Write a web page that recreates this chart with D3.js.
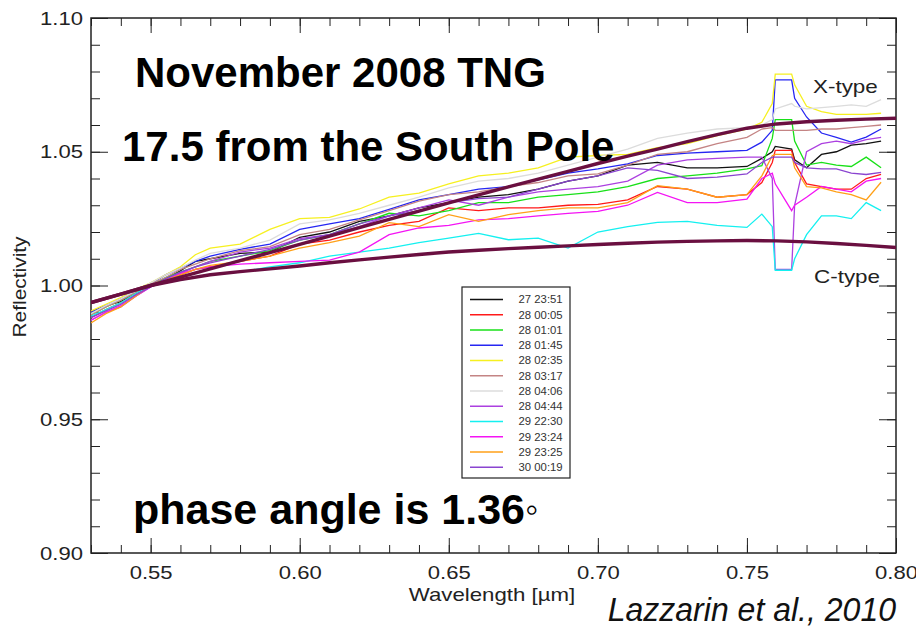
<!DOCTYPE html>
<html>
<head>
<meta charset="utf-8">
<script src="https://cdn.jsdelivr.net/npm/d3@7"></script>
<style>
  body { margin: 0; background: #fff; }
  svg { font-family: "Liberation Sans", Arial, sans-serif; }
  .axis text { font-size: 19px; fill: #222; }
  .axis line { stroke: #222; }
</style>
</head>
<body>
<div id="chart"></div>
<script>
// wavelength grid of the measured spectra (um)
var wave = [0.530, 0.535, 0.540, 0.545, 0.550, 0.555, 0.560, 0.565, 0.570, 0.580,
            0.590, 0.600, 0.610, 0.620, 0.630, 0.640, 0.650, 0.660, 0.670, 0.680,
            0.690, 0.700, 0.710, 0.720, 0.730, 0.740, 0.750, 0.755, 0.7585, 0.7595,
            0.765, 0.766, 0.770, 0.775, 0.780, 0.785, 0.790, 0.795];

var r2751 = [0.990, 0.9925, 0.994, 0.997, 1.000, 1.0025, 1.0055, 1.009, 1.010, 1.012,
             1.0125, 1.018, 1.020, 1.024, 1.026, 1.029, 1.031, 1.033, 1.034, 1.036,
             1.039, 1.041, 1.045, 1.046, 1.044, 1.044, 1.0445, 1.0475, 1.050, 1.052,
             1.051, 1.047, 1.044, 1.049, 1.050, 1.0525, 1.053, 1.054];
var r0005 = [0.988, 0.991, 0.9935, 0.997, 1.000, 1.002, 1.004, 1.006, 1.007, 1.009,
             1.011, 1.0155, 1.017, 1.020, 1.0225, 1.024, 1.029, 1.028, 1.029, 1.029,
             1.030, 1.0303, 1.032, 1.037, 1.036, 1.033, 1.034, 1.0385, 1.046, 1.0505,
             1.0505, 1.046, 1.038, 1.037, 1.036, 1.036, 1.040, 1.0415];
var r0101 = [0.989, 0.992, 0.9945, 0.9975, 1.000, 1.003, 1.005, 1.007, 1.009, 1.011,
             1.013, 1.017, 1.019, 1.023, 1.027, 1.026, 1.028, 1.031, 1.031, 1.033,
             1.034, 1.035, 1.037, 1.040, 1.041, 1.042, 1.0436, 1.0448, 1.055, 1.062,
             1.062, 1.054, 1.045, 1.046, 1.045, 1.0445, 1.048, 1.044];
var r0145 = [0.990, 0.9925, 0.995, 0.998, 1.0005, 1.004, 1.0065, 1.009, 1.011, 1.0135,
             1.0155, 1.021, 1.023, 1.025, 1.0285, 1.032, 1.034, 1.036, 1.037, 1.0395,
             1.042, 1.0436, 1.0455, 1.0486, 1.0495, 1.050, 1.0505, 1.0536, 1.058, 1.0769,
             1.0769, 1.070, 1.063, 1.057, 1.0554, 1.0536, 1.0555, 1.0585];
var r0235 = [0.9905, 0.993, 0.9955, 0.9985, 1.001, 1.004, 1.007, 1.0115, 1.014, 1.0155,
             1.021, 1.025, 1.0255, 1.0286, 1.033, 1.0345, 1.038, 1.041, 1.042, 1.044,
             1.048, 1.0486, 1.049, 1.0515, 1.053, 1.056, 1.0585, 1.061, 1.068, 1.079,
             1.079, 1.075, 1.067, 1.065, 1.064, 1.064, 1.064, 1.0644];
var r0317 = [0.989, 0.992, 0.9945, 0.9975, 1.0005, 1.003, 1.006, 1.008, 1.010, 1.013,
             1.0145, 1.019, 1.021, 1.0245, 1.028, 1.0315, 1.034, 1.035, 1.037, 1.0385,
             1.041, 1.0417, 1.045, 1.049, 1.050, 1.053, 1.0554, 1.0585, 1.059, 1.058,
             1.058, 1.058, 1.058, 1.0585, 1.0585, 1.059, 1.0595, 1.060];
var r0406 = [0.9895, 0.9925, 0.995, 0.998, 1.001, 1.004, 1.0065, 1.0095, 1.012, 1.014,
             1.017, 1.023, 1.0245, 1.027, 1.030, 1.033, 1.0365, 1.039, 1.040, 1.042,
             1.045, 1.048, 1.051, 1.055, 1.057, 1.0585, 1.059, 1.060, 1.062, 1.066,
             1.068, 1.067, 1.066, 1.0665, 1.067, 1.0675, 1.067, 1.0695];
var r0444 = [0.987, 0.990, 0.992, 0.996, 0.9995, 1.002, 1.0045, 1.007, 1.009, 1.0125,
             1.014, 1.0175, 1.019, 1.022, 1.026, 1.029, 1.032, 1.030, 1.033, 1.035,
             1.036, 1.037, 1.039, 1.045, 1.047, 1.0475, 1.048, 1.048, 1.040, 1.006,
             1.006, 1.030, 1.050, 1.053, 1.054, 1.053, 1.0545, 1.0554];
var r2230 = [0.9885, 0.991, 0.9935, 0.997, 1.000, 1.001, 1.002, 1.003, 1.004, 1.005,
             1.007, 1.0085, 1.011, 1.0125, 1.014, 1.016, 1.0177, 1.0195, 1.0171, 1.0177,
             1.014, 1.020, 1.022, 1.0236, 1.024, 1.0225, 1.0217, 1.0267, 1.022, 1.0057,
             1.0057, 1.010, 1.019, 1.026, 1.026, 1.025, 1.031, 1.028];
var r2324 = [0.987, 0.990, 0.9925, 0.996, 0.9995, 1.002, 1.0045, 1.006, 1.007, 1.008,
             1.0085, 1.009, 1.0095, 1.0125, 1.019, 1.0215, 1.0225, 1.0245, 1.025, 1.026,
             1.027, 1.0277, 1.030, 1.0348, 1.031, 1.031, 1.0323, 1.040, 1.042, 1.038,
             1.028, 1.030, 1.033, 1.037, 1.036, 1.035, 1.039, 1.040];
var r2325 = [0.986, 0.9895, 0.992, 0.996, 1.000, 1.002, 1.004, 1.006, 1.0075, 1.009,
             1.011, 1.014, 1.016, 1.0185, 1.0235, 1.022, 1.0265, 1.024, 1.0265, 1.028,
             1.029, 1.029, 1.031, 1.0373, 1.036, 1.033, 1.034, 1.041, 1.0485, 1.049,
             1.049, 1.044, 1.037, 1.0365, 1.035, 1.034, 1.032, 1.0386];
var r0019 = [0.988, 0.9905, 0.993, 0.9965, 0.9995, 1.0025, 1.005, 1.007, 1.0085, 1.011,
             1.0135, 1.017, 1.019, 1.023, 1.026, 1.028, 1.031, 1.0325, 1.033, 1.036,
             1.039, 1.041, 1.044, 1.043, 1.040, 1.0405, 1.0417, 1.046, 1.048, 1.048,
             1.048, 1.046, 1.044, 1.0436, 1.0436, 1.042, 1.0415, 1.0423];

// model curves (thick lines)
var modelWave = [0.53, 0.54, 0.55, 0.56, 0.57, 0.58, 0.59, 0.60, 0.61, 0.62,
                 0.63, 0.64, 0.65, 0.66, 0.67, 0.68, 0.69, 0.70, 0.71, 0.72,
                 0.73, 0.74, 0.75, 0.76, 0.77, 0.78, 0.79, 0.80];
var xType = [0.9936, 0.9968, 1.0000, 1.0031, 1.0062, 1.0093, 1.0123, 1.0154, 1.0185, 1.0216,
             1.0247, 1.0278, 1.0309, 1.0339, 1.0369, 1.0398, 1.0427, 1.0456, 1.0484, 1.0510,
             1.0538, 1.0564, 1.0588, 1.0604, 1.0612, 1.0618, 1.0622, 1.0625];
var cType = [0.9936, 0.9968, 1.0000, 1.0022, 1.0040, 1.0052, 1.0062, 1.0073, 1.0085, 1.0096,
             1.0106, 1.0116, 1.0125, 1.0132, 1.0138, 1.0143, 1.0148, 1.0153, 1.0158, 1.0162,
             1.0165, 1.0167, 1.0168, 1.0167, 1.0163, 1.0157, 1.0150, 1.0142];

var legendLabels = ["27 23:51", "28 00:05", "28 01:01", "28 01:45", "28 02:35", "28 03:17",
                    "28 04:06", "28 04:44", "29 22:30", "29 23:24", "29 23:25", "30 00:19"];
var series = [r2751, r0005, r0101, r0145, r0235, r0317, r0406, r0444, r2230, r2324, r2325, r0019];
var colors = ["#111111", "#ff1a1a", "#18e018", "#2626f2", "#f6f020", "#c48484",
              "#dcdcdc", "#ac40e0", "#14f0f0", "#f414f4", "#ffa018", "#8a44d0"];

var xTicks = [0.55, 0.60, 0.65, 0.70, 0.75, 0.80];
var yTicks = [0.90, 0.95, 1.00, 1.05, 1.10];

var margin = {top: 18, right: 20, bottom: 74, left: 91},
    width = 916 - margin.left - margin.right,
    height = 627 - margin.top - margin.bottom;

var svg = d3.select("#chart")
    .append("svg")
        .attr("width", 916)
        .attr("height", 627)
    .append("g")
        .attr("transform", "translate(" + margin.left + "," + margin.top + ")");

var x = d3.scaleLinear().domain([0.53, 0.80]).range([0, width]);
var y = d3.scaleLinear().domain([0.90, 1.10]).range([height, 0]);

var minorX = d3.range(53, 81).map(function(d) { return d / 100; });
var minorY = d3.range(90, 111).map(function(d) { return d / 100; });

// the plot lettering is a wide helvetica: stretch the glyphs a little
function stretch(sel, k) {
    sel.each(function() {
        var w = this.getComputedTextLength();
        d3.select(this).attr("textLength", w * k).attr("lengthAdjust", "spacingAndGlyphs");
    });
}

// minor ticks on all four sides, pointing inward
svg.append("g").attr("class", "axis").attr("transform", "translate(0," + height + ")")
    .call(d3.axisBottom(x).tickValues(minorX).tickSize(-8).tickFormat(""));
svg.append("g").attr("class", "axis")
    .call(d3.axisTop(x).tickValues(minorX).tickSize(-8).tickFormat(""));
svg.append("g").attr("class", "axis")
    .call(d3.axisLeft(y).tickValues(minorY).tickSize(-9).tickFormat(""));
svg.append("g").attr("class", "axis").attr("transform", "translate(" + width + ",0)")
    .call(d3.axisRight(y).tickValues(minorY).tickSize(-9).tickFormat(""));

// major ticks
var xAxis = svg.append("g").attr("class", "axis").attr("transform", "translate(0," + height + ")")
    .call(d3.axisBottom(x).tickValues(xTicks).tickSize(-15).tickPadding(13).tickFormat(d3.format(".2f")));
svg.append("g").attr("class", "axis")
    .call(d3.axisTop(x).tickValues(xTicks).tickSize(-15).tickFormat(""));
var yAxis = svg.append("g").attr("class", "axis")
    .call(d3.axisLeft(y).tickValues(yTicks).tickSize(-17).tickPadding(8).tickFormat(d3.format(".2f")));
svg.append("g").attr("class", "axis").attr("transform", "translate(" + width + ",0)")
    .call(d3.axisRight(y).tickValues(yTicks).tickSize(-17).tickFormat(""));

svg.selectAll(".axis .domain").remove();
stretch(xAxis.selectAll("text"), 1.16);
stretch(yAxis.selectAll("text"), 1.16);

svg.append("rect")
    .attr("width", width).attr("height", height)
    .attr("fill", "none").attr("stroke", "#222").attr("stroke-width", 1.5);

svg.append("clipPath").attr("id", "clip")
  .append("rect").attr("width", width).attr("height", height);

var plot = svg.append("g").attr("clip-path", "url(#clip)");

var line = d3.line()
    .x(function(d) { return x(d[0]); })
    .y(function(d) { return y(d[1]); });

series.forEach(function(s, i) {
    plot.append("path")
        .datum(s.map(function(v, j) { return [wave[j], v]; }))
        .attr("fill", "none")
        .attr("stroke", colors[i])
        .attr("stroke-width", 1.3)
        .attr("d", line);
});

[xType, cType].forEach(function(s) {
    plot.append("path")
        .datum(s.map(function(v, j) { return [modelWave[j], v]; }))
        .attr("fill", "none")
        .attr("stroke", "#6a0f40")
        .attr("stroke-width", 3.4)
        .attr("d", line);
});

// axis titles
var xTitle = svg.append("text")
    .attr("x", 492 - margin.left).attr("y", 601 - margin.top)
    .attr("text-anchor", "middle").attr("font-size", 19).attr("fill", "#222")
    .text("Wavelength [\u00b5m]");
var yTitle = svg.append("text")
    .attr("transform", "translate(" + (26 - margin.left) + "," + (287 - margin.top) + ") rotate(-90)")
    .attr("text-anchor", "middle").attr("font-size", 19).attr("fill", "#222")
    .text("Reflectivity");
stretch(xTitle, 1.17);
stretch(yTitle, 1.1);

// model labels
var mLabels = svg.append("g").attr("font-size", 19).attr("fill", "#222");
mLabels.append("text").attr("x", 813 - margin.left).attr("y", 92.5 - margin.top).text("X-type");
mLabels.append("text").attr("x", 814 - margin.left).attr("y", 283 - margin.top).text("C-type");
stretch(mLabels.selectAll("text"), 1.18);

// legend
var legend = svg.append("g").attr("transform", "translate(" + (462 - margin.left) + "," + (287 - margin.top) + ")");
legend.append("rect").attr("width", 108).attr("height", 191)
    .attr("fill", "#fff").attr("stroke", "#222").attr("stroke-width", 1.2);
legendLabels.forEach(function(lab, i) {
    var ly = 12.5 + i * 15.25;
    legend.append("line").attr("x1", 8).attr("x2", 41).attr("y1", ly).attr("y2", ly)
        .attr("stroke", colors[i]).attr("stroke-width", 1.4);
    legend.append("text").attr("x", 56.5).attr("y", ly + 3.8)
        .attr("font-size", 10.5).attr("fill", "#333").text(lab);
});
stretch(legend.selectAll("text"), 1.08);

// overlaid annotations
function note(tx, ty, str) {
    return svg.append("text")
        .attr("x", tx - margin.left).attr("y", ty - margin.top)
        .attr("font-size", 42).attr("font-weight", "bold").attr("fill", "#000")
        .text(str);
}
note(135, 87, "November 2008 TNG");
note(122, 161, "17.5 from the South Pole");
var ph = note(133, 524, "phase angle is 1.36");
ph.attr("font-size", 43);
ph.append("tspan").attr("font-weight", "normal").attr("font-size", 38).attr("dx", 0).attr("dy", -2).text("\u25e6");

var cite = svg.append("text")
    .attr("x", 896 - margin.left).attr("y", 621 - margin.top)
    .attr("text-anchor", "end").attr("font-size", 33).attr("font-style", "italic").attr("fill", "#111")
    .text("Lazzarin et al., 2010");
stretch(cite, 0.97);
</script>
</body>
</html>
